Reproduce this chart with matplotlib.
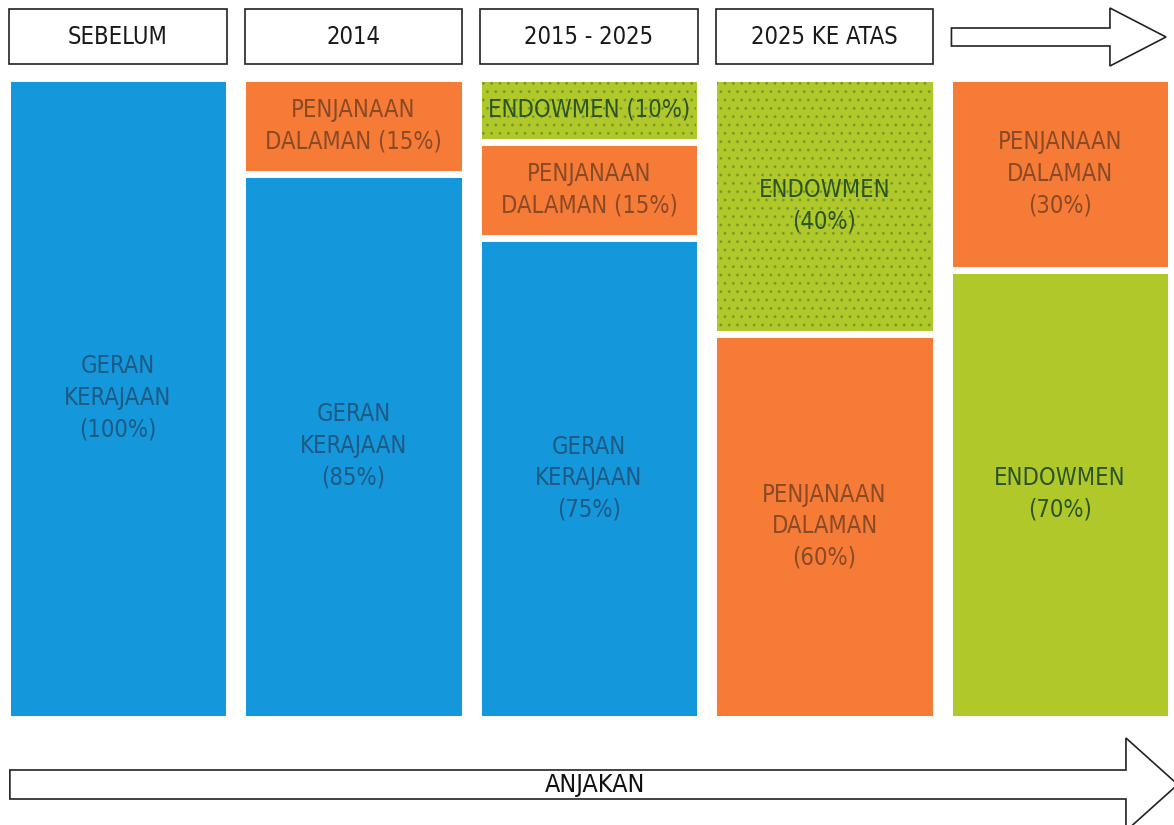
import matplotlib.pyplot as plt
from matplotlib.patches import Rectangle, Polygon

plt.rcParams['font.family'] = ['DejaVu Sans']
plt.rcParams['font.stretch'] = 'condensed'

# data
periods = ['SEBELUM', '2014', '2015 - 2025', '2025 KE ATAS', '']
geran = [100, 85, 75, 0, 0]
penjanaan = [0, 15, 15, 60, 30]
endowmen = [0, 0, 10, 40, 70]
# stacking order of each column, top to bottom
order = [['geran'],
         ['penjanaan', 'geran'],
         ['endowmen', 'penjanaan', 'geran'],
         ['endowmen', 'penjanaan'],
         ['penjanaan', 'endowmen']]
shift_label = 'ANJAKAN'

values = {'geran': geran, 'penjanaan': penjanaan, 'endowmen': endowmen}
names = {'geran': 'GERAN\nKERAJAAN', 'penjanaan': 'PENJANAAN\nDALAMAN', 'endowmen': 'ENDOWMEN'}
colors = {'geran': '#1597dc', 'penjanaan': '#f67b37', 'endowmen': '#b0c82a'}
txt_colors = {'geran': '#1d5a84', 'penjanaan': '#8a4a26', 'endowmen': '#2b5428'}

W, H = 1174, 825
fig = plt.figure(figsize=(W / 100, H / 100), dpi=100)
fig.patch.set_facecolor('white')

xl = (-0.501, 4.484)
# bar area spans y pixels 77.5 .. 718.5
ax = fig.add_axes([0, 1 - 718.5 / H, 1, 641 / H])
ax.set_xlim(*xl)
ax.set_ylim(100, 0)
ax.axis('off')

for i in range(len(periods)):
    cum = 0
    for key in order[i]:
        v = values[key][i]
        ax.bar(i, v, bottom=cum, width=0.943, color=colors[key],
               edgecolor='white', linewidth=5)
        if key == 'endowmen' and i in (2, 3):
            # speckled print texture
            ax.bar(i, v, bottom=cum, width=0.91, fill=False, hatch='..',
                   edgecolor='#2e5a2a', linewidth=0, alpha=0.3)
        sep = ' ' if v <= 15 else '\n'
        ax.text(i, cum + v / 2, names[key] + sep + '(%d%%)' % v,
                ha='center', va='center', fontsize=17, linespacing=1.4,
                color=txt_colors[key])
        cum += v

# overlay in pixel y for the header boxes and arrows
ov = fig.add_axes([0, 0, 1, 1])
ov.set_xlim(*xl)
ov.set_ylim(H, 0)
ov.axis('off')

for i, p in enumerate(periods[:4]):
    ov.add_patch(Rectangle((i - 0.461, 9), 0.922, 55, facecolor='white',
                           edgecolor='#222222', linewidth=1.2))
    ov.text(i, 37, p, ha='center', va='center', fontsize=17, color='#1a1a1a')

# top arrow
ov.add_patch(Polygon([(3.539, 28), (4.212, 28), (4.212, 8), (4.45, 37),
                      (4.212, 66), (4.212, 46), (3.539, 46)],
                     closed=True, facecolor='white', edgecolor='#222222',
                     linewidth=1.2))

# bottom arrow
ov.add_patch(Polygon([(-0.459, 770), (4.28, 770), (4.28, 738), (4.5, 784.5),
                      (4.28, 831), (4.28, 799), (-0.459, 799)],
                     closed=True, facecolor='white', edgecolor='#222222',
                     linewidth=1.2, clip_on=False))
ov.text(2.025, 785, shift_label, ha='center', va='center', fontsize=18,
        color='#111111')

fig.savefig('out.png', dpi=100)
